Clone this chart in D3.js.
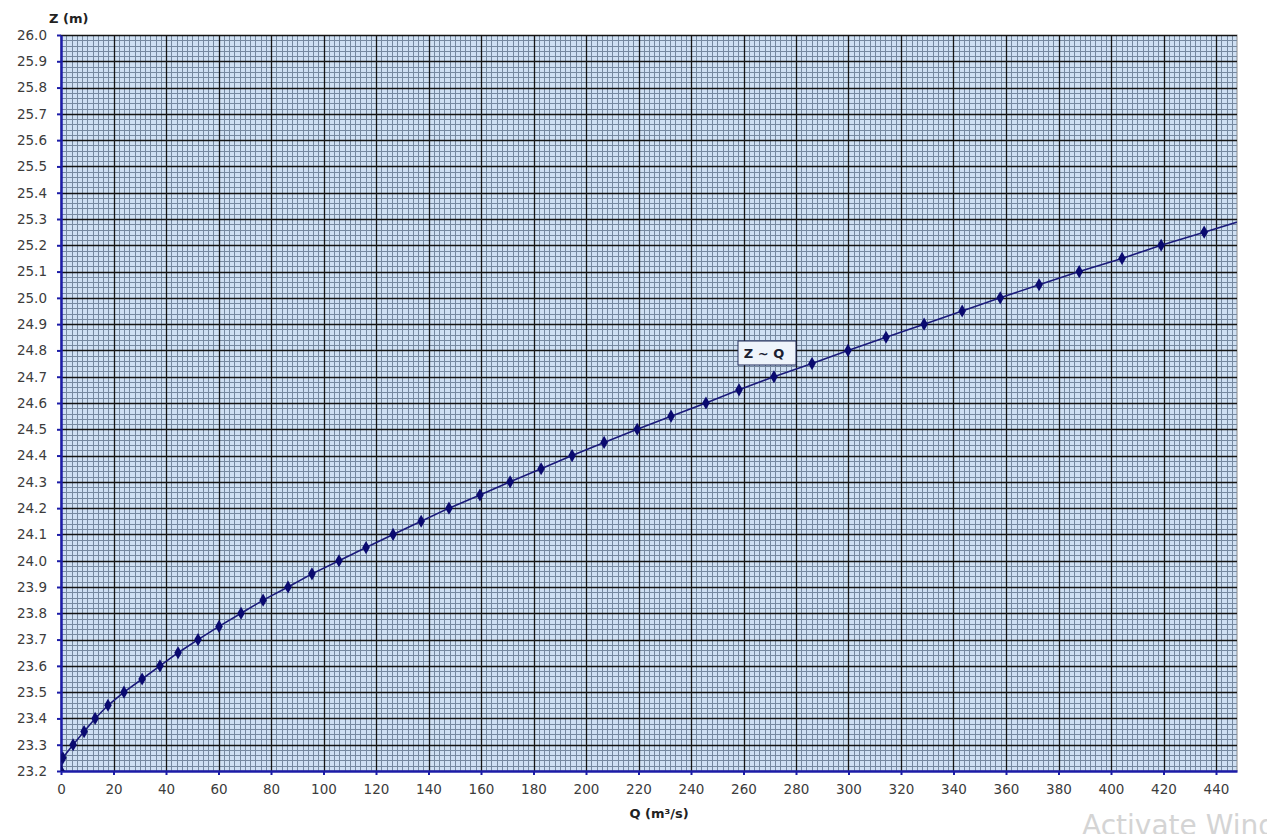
<!DOCTYPE html>
<html>
<head>
<meta charset="utf-8">
<script src="https://cdn.jsdelivr.net/npm/d3@7"></script>
<style>
  html, body { margin: 0; padding: 0; background: #ffffff; }
  svg { display: block; }
  text { font-family: "DejaVu Sans", "Liberation Sans", Arial, sans-serif; }
</style>
</head>
<body>
<svg id="chart" width="1267" height="834"></svg>
<script>
// ---- data ----
const qValues = [0, 0.7, 4.6, 8.8, 13.0, 17.9, 24.0, 30.9, 37.7, 44.6, 52.2, 60.2, 68.6, 77.0, 86.5, 95.6,
  105.9, 116.2, 126.5, 137.2, 147.8, 159.6, 171.1, 182.9, 194.7, 206.9, 219.5, 232.4, 245.7, 258.3,
  271.6, 286.1, 299.8, 314.3, 328.8, 343.3, 357.8, 372.6, 387.9, 404.2, 419.1, 435.5, 452.0];
const zValues = [23.20, 23.25, 23.30, 23.35, 23.40, 23.45, 23.50, 23.55, 23.60, 23.65, 23.70, 23.75, 23.80,
  23.85, 23.90, 23.95, 24.00, 24.05, 24.10, 24.15, 24.20, 24.25, 24.30, 24.35, 24.40, 24.45, 24.50,
  24.55, 24.60, 24.65, 24.70, 24.75, 24.80, 24.85, 24.90, 24.95, 25.00, 25.05, 25.10, 25.15, 25.20,
  25.25, 25.30];
const xTicks = d3.range(0, 441, 20);
const yTicks = d3.range(0, 29).map(i => +(23.2 + i * 0.1).toFixed(1));
const xMinor = d3.range(0, 449, 2);
const yMinor = d3.range(0, 141).map(i => +(23.2 + i * 0.02).toFixed(2));
const seriesName = "Z ~ Q";
const xTitle = "Q (m³/s)";
const yTitle = "Z (m)";

// ---- layout ----
const svg = d3.select("#chart");
const pL = 61, pR = 1237, pT = 35, pB = 771;
const x = d3.scaleLinear().domain([0, 448]).range([pL, pR]);
const y = d3.scaleLinear().domain([23.2, 26.0]).range([pB, pT]);

svg.append("defs").append("clipPath").attr("id", "plotClip")
  .append("rect").attr("x", pL).attr("y", pT).attr("width", pR - pL).attr("height", pB - pT);

// plot background
svg.append("rect").attr("x", pL).attr("y", pT).attr("width", pR - pL).attr("height", pB - pT)
  .attr("fill", "#cfe0f3").attr("stroke", "#8a8a8a").attr("stroke-width", 1);

const grid = svg.append("g").attr("clip-path", "url(#plotClip)");
// minor grid
grid.selectAll("line.vmin").data(xMinor.filter(d => d % 20 !== 0)).enter().append("line")
  .attr("x1", d => Math.round(x(d)) + 0.5).attr("x2", d => Math.round(x(d)) + 0.5)
  .attr("y1", pT).attr("y2", pB).attr("stroke", "#7689a0").attr("stroke-width", 1);
grid.selectAll("line.hmin").data(yMinor.filter(d => Math.abs(d * 10 - Math.round(d * 10)) > 1e-6)).enter().append("line")
  .attr("y1", d => Math.round(y(d)) + 0.5).attr("y2", d => Math.round(y(d)) + 0.5)
  .attr("x1", pL).attr("x2", pR).attr("stroke", "#7689a0").attr("stroke-width", 1);
// major grid
grid.selectAll("line.vmaj").data(xTicks.slice(1)).enter().append("line")
  .attr("x1", d => Math.round(x(d)) + 0.5).attr("x2", d => Math.round(x(d)) + 0.5)
  .attr("y1", pT).attr("y2", pB).attr("stroke", "#141414").attr("stroke-width", 1.3);
grid.selectAll("line.hmaj").data(yTicks.slice(1)).enter().append("line")
  .attr("y1", d => Math.round(y(d)) + 0.5).attr("y2", d => Math.round(y(d)) + 0.5)
  .attr("x1", pL).attr("x2", pR).attr("stroke", "#141414").attr("stroke-width", 1.3);

// axes
const axisColor = "#1c1ca8";
const xAxis = svg.append("g").attr("transform", `translate(0,${pB})`)
  .call(d3.axisBottom(x).tickValues(xTicks).tickFormat(d3.format("d")).tickSize(4).tickSizeOuter(0));
const yAxis = svg.append("g").attr("transform", `translate(${pL},0)`)
  .call(d3.axisLeft(y).tickValues(yTicks).tickFormat(d3.format(".1f")).tickSize(4).tickSizeOuter(0));
[xAxis, yAxis].forEach(g => {
  g.select(".domain").attr("stroke", axisColor).attr("stroke-width", 2.5);
  g.selectAll(".tick line").attr("stroke", axisColor).attr("stroke-width", 2);
  g.selectAll(".tick text").attr("fill", "#3c3c3c").attr("font-size", 13.5)
    .attr("font-family", "'DejaVu Sans', 'Liberation Sans', sans-serif");
});
xAxis.selectAll(".tick text").attr("y", 6).attr("dy", "1.25em");
yAxis.selectAll(".tick text").attr("x", -14);

// axis titles
svg.append("text").attr("x", 49).attr("y", 23).attr("font-size", 13).attr("font-weight", "bold")
  .attr("fill", "#222").text(yTitle);
svg.append("text").attr("x", 659).attr("y", 818).attr("text-anchor", "middle")
  .attr("font-size", 13).attr("font-weight", "bold").attr("fill", "#222").text(xTitle);

// series
const pts = qValues.map((q, i) => [q, zValues[i]]);
const plot = svg.append("g").attr("clip-path", "url(#plotClip)");
plot.append("path").datum(pts)
  .attr("d", d3.line().x(d => x(d[0])).y(d => y(d[1])))
  .attr("fill", "none").attr("stroke", "#1a1a7a").attr("stroke-width", 1.6);
plot.selectAll("path.mk").data(pts).enter().append("path")
  .attr("transform", d => `translate(${x(d[0])},${y(d[1])})`)
  .attr("d", d3.symbol().type(d3.symbolDiamond).size(50))
  .attr("fill", "#0a0a70");

// series label box
const lbl = svg.append("g");
lbl.append("rect").attr("x", 738).attr("y", 341).attr("width", 58).attr("height", 24)
  .attr("fill", "#eef4fb").attr("stroke", "#1e2a5a").attr("stroke-width", 1);
lbl.append("text").attr("x", 764).attr("y", 358).attr("text-anchor", "middle")
  .attr("font-size", 13).attr("font-weight", "bold").attr("fill", "#1a2030").text(seriesName);

// watermark
svg.append("text").attr("x", 1082).attr("y", 835).attr("font-size", 28)
  .attr("font-family", "'Open Sans', 'Liberation Sans', sans-serif")
  .attr("fill", "#d4d4d4").text("Activate Windows");
</script>
</body>
</html>
